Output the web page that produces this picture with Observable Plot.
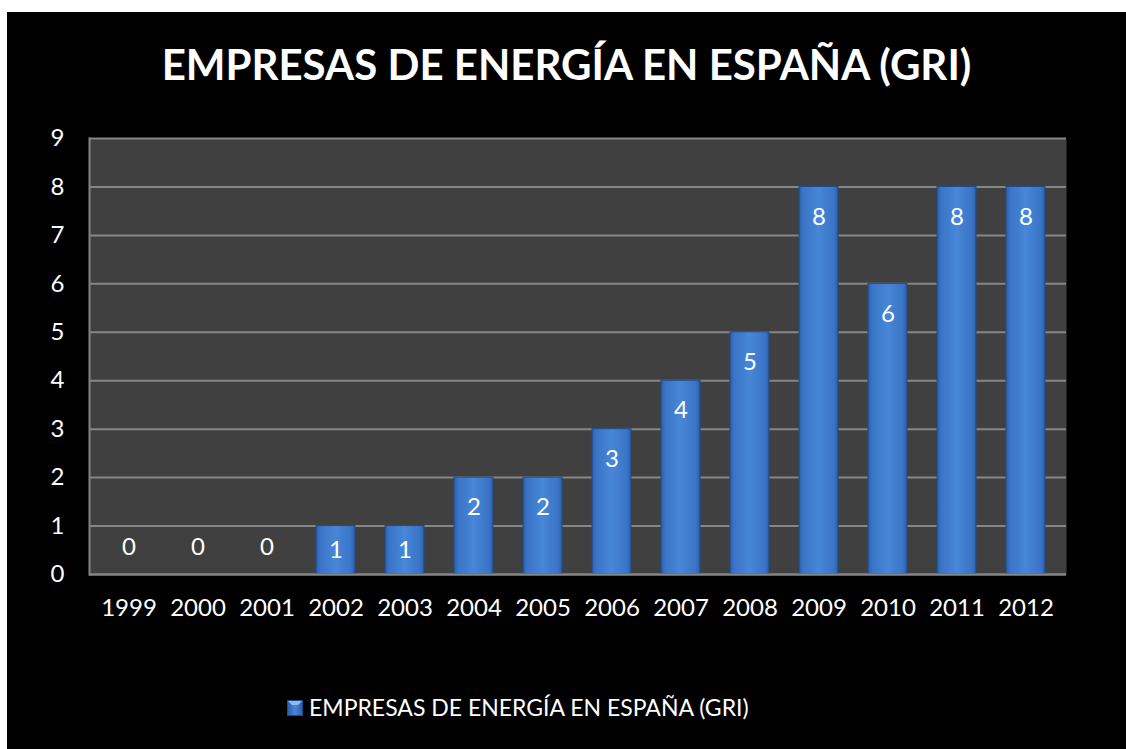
<!DOCTYPE html>
<html>
<head>
<meta charset="utf-8">
<script src="https://cdn.jsdelivr.net/npm/d3@7"></script>
<script src="https://cdn.jsdelivr.net/npm/@observablehq/plot@0.6"></script>
<style>
  html, body { margin: 0; padding: 0; background: #ffffff; }
  #wrap { position: absolute; left: 7px; top: 12px; width: 1119px; height: 737px; background: #000; overflow: hidden; font-family: Lato, "Open Sans", sans-serif; }
  #title { position: absolute; left: 0; top: 31px; width: 100%; text-align: center; color: #fff; font-weight: 700; font-size: 42px; line-height: 1; white-space: nowrap; }
  #chart { position: absolute; left: 0; top: 0; }
  #legend { position: absolute; left: 280px; top: 684px; display: flex; align-items: center; color: #fff; font-size: 23px; line-height: 1; white-space: nowrap; }
  #legend svg { margin-right: 6px; }
</style>
</head>
<body>
<div id="wrap">
  <div id="title"></div>
  <div id="chart"></div>
  <div id="legend"></div>
</div>
<script>
const titleText = "EMPRESAS DE ENERGÍA EN ESPAÑA (GRI)";
const seriesName = "EMPRESAS DE ENERGÍA EN ESPAÑA (GRI)";
const years = ["1999","2000","2001","2002","2003","2004","2005","2006","2007","2008","2009","2010","2011","2012"];
const values = [0,0,0,1,1,2,2,3,4,5,8,6,8,8];
const yTicks = [0,1,2,3,4,5,6,7,8,9];

const data = years.map((year, i) => ({year, v: values[i]}));
const font = 'Lato, "Open Sans", sans-serif';

document.getElementById("title").textContent = titleText;

const chart = Plot.plot({
  width: 1119,
  height: 620,
  marginTop: 126,
  marginBottom: 58,
  marginLeft: 82,
  marginRight: 60,
  style: { background: "transparent", color: "#ffffff", fontSize: "24px", fontFamily: font },
  x: { domain: years, paddingInner: 0.43, paddingOuter: 0.215, tickSize: 0, tickPadding: 24, label: null },
  y: { domain: [0, 9], ticks: yTicks, tickSize: 0, tickPadding: 25, label: null, tickFormat: d => String(d) },
  marks: [
    Plot.frame({ fill: "#404040", stroke: null }),
    Plot.ruleY(yTicks, { stroke: "#868686", strokeWidth: 2 }),
    Plot.frame({ anchor: "left", stroke: "#868686", strokeWidth: 2 }),
    Plot.barY(data, { x: "year", y: "v", fill: "url(#barGrad)", stroke: "#1f4a86", strokeWidth: 1 }),
    Plot.tickY(data.filter(d => d.v > 0), { x: "year", y: "v", stroke: "url(#bevelGrad)", strokeWidth: 9, dy: 5, insetLeft: 3, insetRight: 3 }),
    Plot.ruleY([0], { stroke: "#868686", strokeWidth: 2 }),
    Plot.text(data, {
      x: "year",
      y: d => d.v === 0 ? 0.56 : Math.max(d.v - 0.62, d.v / 2),
      text: d => String(d.v),
      fill: "#ffffff",
      fontSize: 24,
      fontFamily: font
    })
  ]
});

const svg = d3.select(chart);
const defs = svg.insert("defs", ":first-child");
const g = defs.append("linearGradient").attr("id", "barGrad").attr("x1", "0").attr("x2", "1").attr("y1", "0").attr("y2", "0");
[["0%", "#2a5da6"], ["10%", "#3a74c6"], ["50%", "#4786d8"], ["90%", "#3a74c6"], ["100%", "#2a5da6"]]
  .forEach(([o, c]) => g.append("stop").attr("offset", o).attr("stop-color", c));
const b = defs.append("linearGradient").attr("id", "bevelGrad").attr("x1", "0").attr("x2", "0").attr("y1", "0").attr("y2", "1");
[["0%", "#8cbcf4"], ["100%", "#5b95e2"]]
  .forEach(([o, c]) => b.append("stop").attr("offset", o).attr("stop-color", c));
document.getElementById("chart").appendChild(chart);

// legend
const legend = document.getElementById("legend");
legend.innerHTML = `<svg width="16" height="16" viewBox="0 0 16 16">
  <defs><linearGradient id="lg" x1="0" x2="1" y1="0" y2="0">
    <stop offset="0%" stop-color="#2a5da6"/><stop offset="50%" stop-color="#4786d8"/><stop offset="100%" stop-color="#2a5da6"/>
  </linearGradient></defs>
  <rect x="0.5" y="0.5" width="15" height="15" fill="url(#lg)" stroke="#1f4a86"/>
  <polygon points="1,1 15,1 11,5 5,5" fill="#8cbcf4"/>
</svg><span></span>`;
legend.querySelector("span").textContent = seriesName;
</script>
</body>
</html>
